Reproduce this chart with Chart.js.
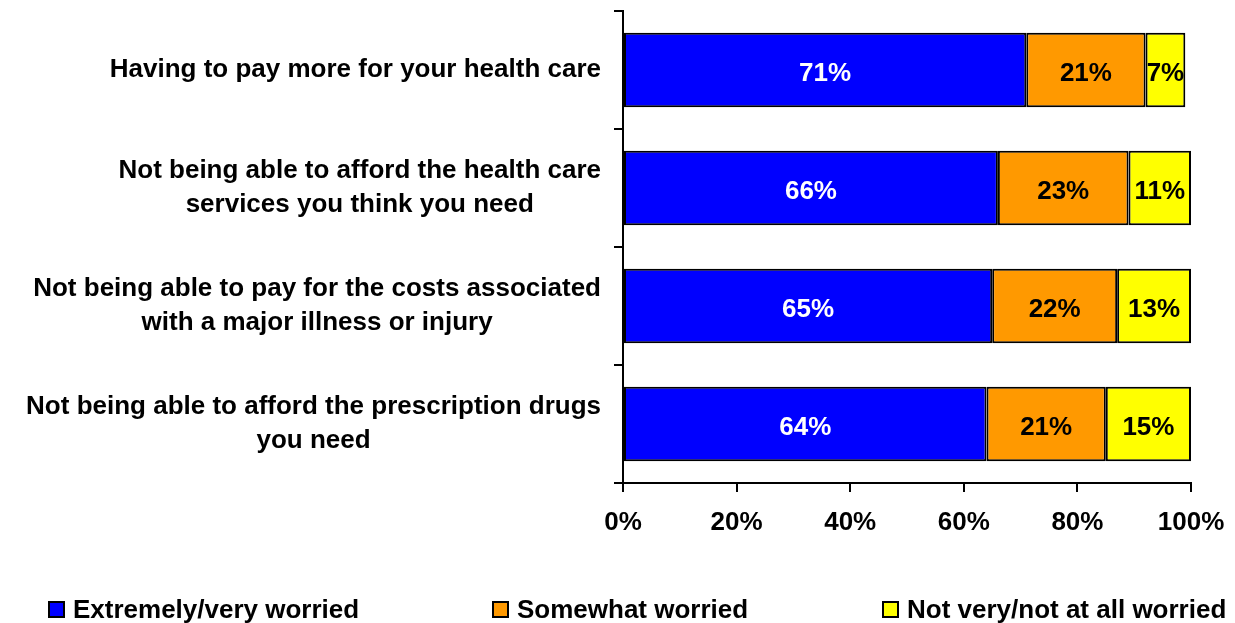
<!DOCTYPE html>
<html>
<head>
<meta charset="utf-8">
<script src="https://cdn.jsdelivr.net/npm/chart.js@4/dist/chart.umd.min.js"></script>
<style>
  body { margin: 0; background: #fff; }
  #wrap { position: relative; width: 1235px; height: 623px; overflow: hidden; }
  #legend { position: absolute; left: 0; top: 594px; width: 1235px; height: 30px;
            font: bold 26px "Liberation Sans", Arial, sans-serif; color: #000; }
  .item { position: absolute; top: 0; white-space: nowrap; line-height: 30px; padding-left: 25px; }
  .box { position: absolute; left: 0; top: 7px; width: 13px; height: 13px; border: 2px solid #000; }
</style>
</head>
<body>
<div id="wrap">
  <canvas id="chart" width="1235" height="623"></canvas>
  <div id="legend"></div>
</div>
<script>
const categories = [
  ['Having to pay more for your health care'],
  ['Not being able to afford the health care', 'services you think you need'],
  ['Not being able to pay for the costs associated', 'with a major illness or injury'],
  ['Not being able to afford the prescription drugs', 'you need']
];
const seriesNames = ['Extremely/very worried', 'Somewhat worried', 'Not very/not at all worried'];
const extremely = [71, 66, 65, 64];
const somewhat = [21, 23, 22, 21];
const notVery = [7, 11, 13, 15];
const xTicks = [0, 20, 40, 60, 80, 100];

const colors = ['#0000FF', '#FF9900', '#FFFF00'];
const labelColors = ['#FFFFFF', '#000000', '#000000'];
const FAMILY = '"Liberation Sans", Arial, sans-serif';
const FONT = 'bold 26px ' + FAMILY;

// category labels: lines centred on each other, each block right-aligned to the axis
const categoryLabels = {
  id: 'categoryLabels',
  afterDraw(chart) {
    const ctx = chart.ctx;
    const yScale = chart.scales.y;
    const right = chart.chartArea.left - 22;
    ctx.save();
    ctx.font = FONT;
    ctx.fillStyle = '#000';
    ctx.textAlign = 'center';
    ctx.textBaseline = 'middle';
    categories.forEach((lines, i) => {
      const widest = Math.max(...lines.map(l => ctx.measureText(l).width));
      const cx = right - widest / 2;
      const cy = yScale.getPixelForValue(i);
      lines.forEach((line, j) => {
        ctx.fillText(line, cx, cy + (j - (lines.length - 1) / 2) * 34);
      });
    });
    ctx.restore();
  }
};

const barLabels = {
  id: 'barLabels',
  afterDatasetsDraw(chart) {
    const ctx = chart.ctx;
    ctx.save();
    ctx.font = FONT;
    ctx.textAlign = 'center';
    ctx.textBaseline = 'middle';
    chart.data.datasets.forEach((ds, di) => {
      chart.getDatasetMeta(di).data.forEach((bar, i) => {
        const p = bar.getCenterPoint();
        ctx.fillStyle = labelColors[di];
        ctx.fillText(ds.data[i] + '%', p.x, p.y + 4);
      });
    });
    ctx.restore();
  }
};

const seriesData = [extremely, somewhat, notVery];

const ctx = document.getElementById('chart').getContext('2d');
window.chart = new Chart(ctx, {
  type: 'bar',
  data: {
    labels: categories,
    datasets: seriesData.map((d, i) => ({
      label: seriesNames[i],
      data: d,
      backgroundColor: colors[i],
      borderColor: '#000',
      borderWidth: 2,
      borderSkipped: false,
      barPercentage: 0.63,
      categoryPercentage: 1
    }))
  },
  options: {
    indexAxis: 'y',
    responsive: false,
    animation: false,
    devicePixelRatio: 1,
    layout: { padding: { top: 11, right: 44, left: 0, bottom: 0 } },
    plugins: {
      legend: { display: false },
      tooltip: { enabled: false }
    },
    scales: {
      x: {
        stacked: true,
        min: 0,
        max: 100,
        afterBuildTicks: (scale) => { scale.ticks = xTicks.map(v => ({ value: v })); },
        afterFit: (scale) => {
          scale.height = 140;
          scale.paddingLeft = 0;
          scale.paddingRight = 0;
        },
        ticks: {
          color: '#000',
          font: { family: FAMILY, size: 26, weight: 'bold' },
          padding: 15,
          maxRotation: 0,
          callback: (v) => v + '%'
        },
        grid: { display: true, drawOnChartArea: false, drawTicks: true, tickLength: 9, color: '#000', lineWidth: 2 },
        border: { display: true, color: '#000', width: 2 }
      },
      y: {
        stacked: true,
        afterFit: (scale) => { scale.width = 623; },
        ticks: { display: false },
        grid: { display: true, offset: true, drawOnChartArea: false, drawTicks: true, tickLength: 9, color: '#000', lineWidth: 2 },
        border: { display: true, color: '#000', width: 2 }
      }
    }
  },
  plugins: [categoryLabels, barLabels]
});

// legend as html, one item per series
const legendLeft = [48, 492, 882];
const legend = document.getElementById('legend');
seriesNames.forEach((name, i) => {
  const item = document.createElement('div');
  item.className = 'item';
  item.style.left = legendLeft[i] + 'px';
  const box = document.createElement('span');
  box.className = 'box';
  box.style.background = colors[i];
  item.appendChild(box);
  item.appendChild(document.createTextNode(name));
  legend.appendChild(item);
});
</script>
</body>
</html>
